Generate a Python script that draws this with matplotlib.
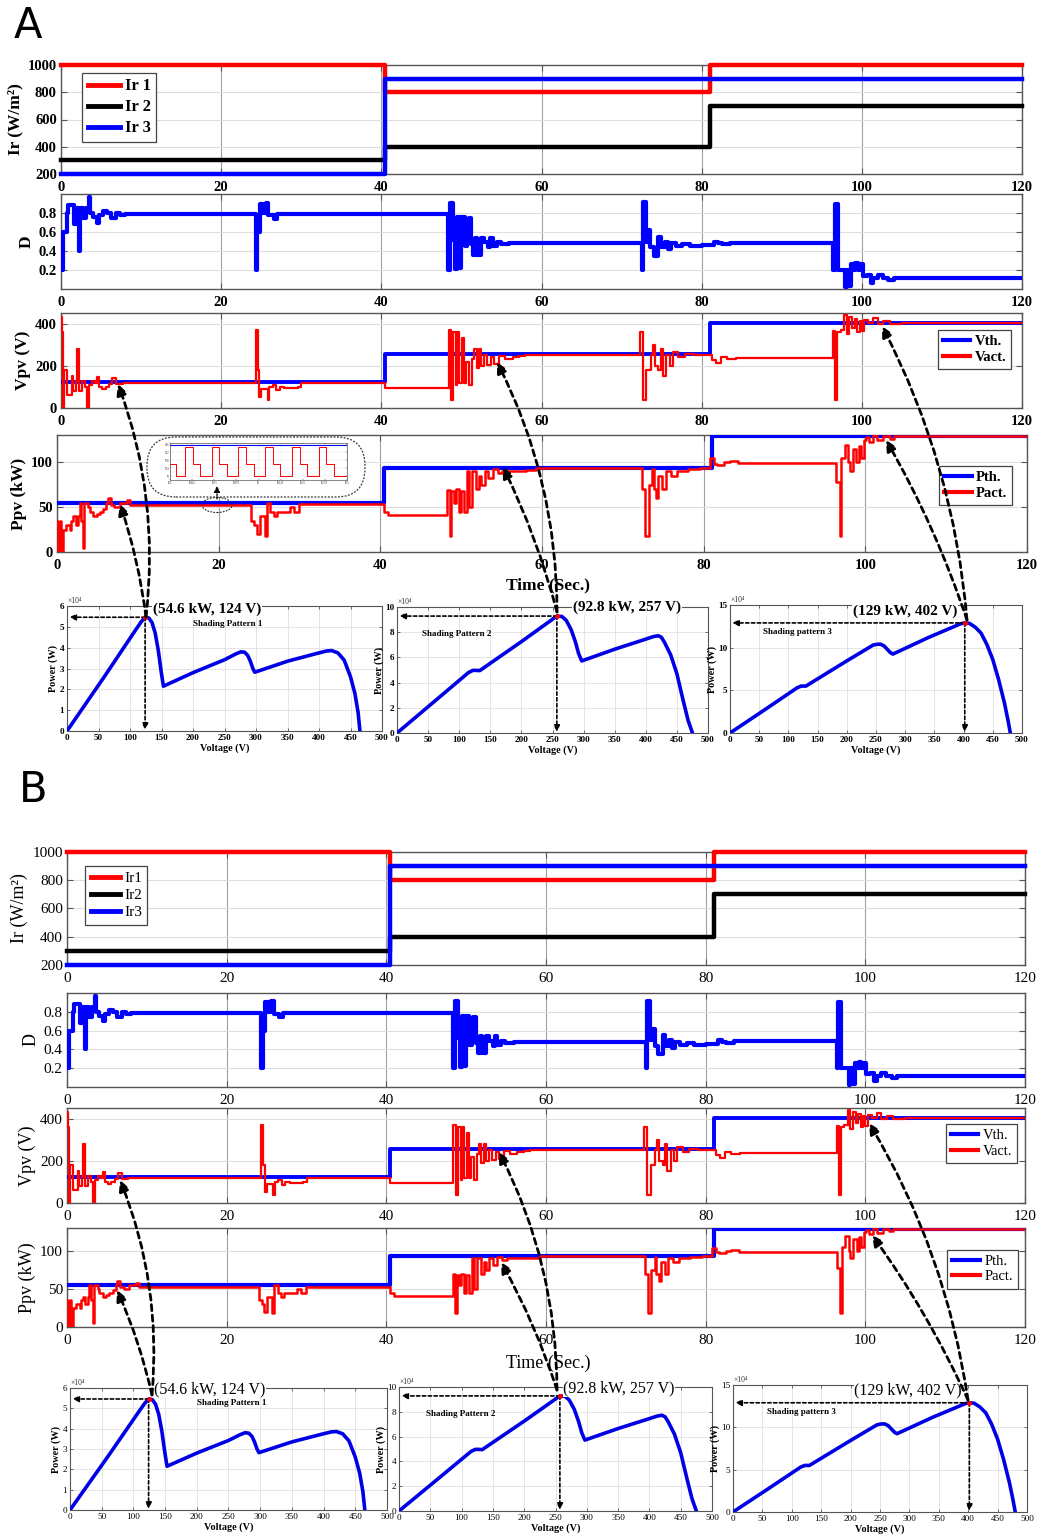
import matplotlib
matplotlib.use('Agg')
import matplotlib.pyplot as plt
from matplotlib.patches import FancyArrowPatch, FancyBboxPatch, Ellipse
from matplotlib.lines import Line2D

plt.rcParams['font.family'] = ['Liberation Serif', 'DejaVu Serif']

W, H = 1053, 1538

# ------------------------------------------------------------------ data
ir_t = [0, 40.5, 81, 120]
ir1 = [1000, 800, 1000, 1000]
ir2 = [300, 400, 700, 700]
ir3 = [200, 900, 900, 900]

th_t = [0, 40.5, 81, 120]
vth = [124, 257, 402, 402]
pth = [54.6, 92.8, 129, 129]

d_t = [0, 0.3, 0.7, 0.9, 1.6, 1.9, 2.2, 2.35, 2.8, 3.1, 3.5, 3.65, 4.0, 4.5, 4.8, 5.3, 5.8, 6.3, 6.9, 7.4, 8.0,
       24.3, 24.5, 24.8, 25.2, 25.6, 25.9, 26.6, 27.0,
       48.3, 48.6, 49.0, 49.2, 49.5, 49.8, 50.0, 50.4, 50.7, 50.9, 51.2, 51.5, 51.7, 52.0, 52.5, 52.8, 53.3, 53.6, 53.9, 54.4, 54.9, 56.0,
       72.5, 72.7, 73.0, 73.3, 73.6, 74.0, 74.6, 74.9, 75.4, 75.8, 76.2, 76.8, 77.6, 78.5, 80.0, 81.5, 82.0, 82.6, 83.5,
       96.4, 96.6, 97.0, 97.9, 98.1, 98.4, 98.7, 98.9, 99.2, 99.5, 99.8, 100.1, 100.6, 101.1, 101.4, 102.0, 102.6, 103.3, 104.0, 120]
d_v = [0.2, 0.6, 0.8, 0.88, 0.68, 0.85, 0.4, 0.85, 0.75, 0.85, 0.97, 0.8, 0.76, 0.7, 0.78, 0.82, 0.8, 0.75, 0.8, 0.78, 0.785,
       0.2, 0.6, 0.9, 0.8, 0.91, 0.78, 0.74, 0.79,
       0.2, 0.91, 0.52, 0.21, 0.76, 0.22, 0.76, 0.45, 0.52, 0.75, 0.47, 0.36, 0.54, 0.36, 0.54, 0.49, 0.44, 0.54, 0.45, 0.49, 0.47, 0.48,
       0.2, 0.92, 0.5, 0.62, 0.44, 0.35, 0.55, 0.44, 0.5, 0.42, 0.48, 0.45, 0.47, 0.45, 0.46, 0.5, 0.48, 0.47, 0.485,
       0.2, 0.9, 0.2, 0.02, 0.2, 0.03, 0.26, 0.2, 0.27, 0.2, 0.26, 0.14, 0.15, 0.06, 0.12, 0.15, 0.12, 0.1, 0.12, 0.12]

vact_t = [0, 0.17, 0.3, 0.42, 0.72, 1.14, 1.35, 1.56, 1.86, 2.03, 2.28, 2.6, 2.95, 3.25, 3.46, 3.88, 4.3, 4.5, 4.73, 5.15, 5.57, 6.0, 6.4, 6.84, 7.7,
          24.35, 24.55, 24.75, 25.0, 25.8, 26.0, 26.45, 26.9, 27.3, 27.9, 29.6, 30.0,
          40.5, 48.4, 48.7, 49.0, 49.3, 49.5, 49.7, 50.05, 50.35, 50.6, 51.0, 51.3, 51.6, 51.9, 52.2, 52.5, 52.8, 53.25, 53.7, 54.1, 54.7, 55.5, 56.4, 57.2, 58.0,
          72.3, 72.7, 73.1, 73.7, 73.95, 74.2, 74.6, 74.9, 75.2, 75.6, 76.0, 76.4, 77.1, 77.9, 79.1, 81.3, 81.8, 82.4, 83.2, 84.3,
          96.4, 96.7, 96.9, 97.35, 97.8, 98.1, 98.4, 98.8, 99.1, 99.4, 99.75, 100.0, 100.3, 100.8, 101.4, 102.0, 102.7, 103.5, 105.0, 107.0, 120]
vact_v = [430, 360, 0, 180, 60, 60, 150, 80, 130, 280, 80, 130, 100, 0, 110, 130, 120, 145, 100, 90, 100, 115, 140, 115, 120,
          370, 180, 50, 90, 40, 100, 110, 85, 100, 95, 100, 120,
          97, 370, 40, 360, 110, 360, 120, 330, 120, 220, 110, 230, 280, 190, 280, 200, 250, 205, 240, 210, 245, 230, 240, 245, 252,
          360, 40, 180, 250, 300, 200, 180, 280, 150, 250, 200, 265, 240, 255, 250, 228, 215, 240, 232, 236,
          363, 40, 360, 370, 440, 350, 430, 380, 420, 360, 410, 365, 415, 405, 428, 398, 410, 400, 405, 402, 402]

pact_t = [0, 0.12, 0.33, 0.54, 0.74, 1.16, 1.57, 1.78, 2.0, 2.3, 2.6, 2.8, 3.0, 3.2, 3.4, 3.85, 4.05, 4.46, 4.9, 5.3, 5.7, 6.1, 6.3, 6.7, 7.1, 7.8, 8.6, 9.0,
          24.0, 24.4, 24.7, 25.1, 25.7, 25.95, 26.4, 26.8, 27.2, 28.8, 29.3, 29.9,
          40.5, 41.0, 48.3, 48.6, 48.8, 49.1, 49.4, 49.75, 49.95, 50.4, 50.7, 51.0, 51.4, 51.8, 52.2, 52.45, 52.9, 53.3, 53.9, 54.5, 55.1, 58.0, 59.3,
          72.4, 72.8, 73.2, 73.6, 73.8, 74.15, 74.4, 74.85, 75.3, 75.9, 76.7, 78.0, 79.6, 80.8, 81.3, 81.7, 82.5, 83.2, 84.2,
          96.4, 96.85, 97.05, 97.5, 97.9, 98.1, 98.5, 98.9, 99.2, 99.5, 99.8, 100.1, 100.5, 100.9, 101.5, 102.2, 103.0, 103.5, 120]
pact_v = [35, 0, 35, 0, 25, 30, 25, 35, 40, 30, 40, 55, 35, 5, 55, 50, 45, 40, 42, 45, 48, 55, 60, 52, 50, 55, 58, 52,
          35, 30, 20, 40, 18, 55, 45, 40, 45, 50, 45, 53,
          45, 41, 69, 18, 68, 55, 70, 45, 68, 45, 90, 50, 90, 70, 85, 75, 90, 82, 92, 88, 90, 91, 93,
          70, 18, 75, 92, 70, 60, 85, 70, 90, 85, 90, 92, 93, 104, 98, 97, 100, 101, 99,
          78, 18, 105, 119, 100, 90, 115, 100, 118, 105, 125, 128, 122, 130, 124, 129, 126, 129, 129]

# zoomed inset (around t = 20 s)
inset_t = [19.5, 19.534, 19.585, 19.628, 19.670, 19.736, 19.779, 19.821, 19.887, 19.930, 19.972,
           20.038, 20.081, 20.123, 20.189, 20.232, 20.274, 20.340, 20.383, 20.425, 20.5]
inset_p = [53.6, 53.0, 54.5, 53.6, 53.0, 54.5, 53.6, 53.0, 54.5, 53.6, 53.0,
           54.5, 53.6, 53.0, 54.5, 53.6, 53.0, 54.5, 53.6, 53.0, 53.0]
inset_th = [54.6, 54.6]

# P-V curves (power in 1e4 W)
pv1_v = [0, 60, 110, 118, 124, 130, 135, 140, 145, 149, 153, 200, 250, 268, 276, 282, 287, 291, 295, 298,
         350, 400, 412, 420, 430, 440, 450, 457, 462, 465]
pv1_p = [0, 2.64, 4.9, 5.25, 5.46, 5.42, 5.2, 4.7, 3.85, 2.95, 2.15, 2.8, 3.42, 3.7, 3.8, 3.78, 3.62, 3.35, 3.0, 2.82,
         3.35, 3.75, 3.84, 3.86, 3.75, 3.4, 2.6, 1.8, 0.9, 0]
pv2_v = [0, 60, 115, 122, 127, 133, 200, 245, 257, 265, 272, 280, 287, 292, 297, 350, 400, 412, 420, 425,
         430, 440, 450, 460, 468, 475]
pv2_p = [0, 2.5, 4.8, 4.97, 4.97, 4.95, 7.25, 8.85, 9.28, 9.25, 8.95, 8.2, 7.2, 6.3, 5.72, 6.65, 7.45, 7.65, 7.72, 7.6,
         7.2, 6.2, 4.7, 2.6, 1.0, 0]
pv3_v = [0, 60, 115, 122, 130, 200, 245, 252, 258, 264, 270, 275, 279, 340, 395, 402, 410, 420, 430, 440,
         450, 460, 470, 476, 480]
pv3_p = [0, 2.75, 5.3, 5.5, 5.5, 8.45, 10.3, 10.4, 10.4, 10.2, 9.75, 9.4, 9.25, 11.2, 12.8, 12.9, 12.85, 12.4, 11.7, 10.35,
         8.6, 6.25, 3.5, 1.5, 0]
peak_v = [124, 257, 402]
peak_p = [5.46, 9.28, 12.9]
peak_labels = ['(54.6 kW, 124 V)', '(92.8 kW, 257 V)', '(129 kW, 402 V)']
shade_labels = ['Shading Pattern 1', 'Shading Pattern 2', 'Shading pattern 3']

# ------------------------------------------------------------------ helpers
RED = '#ff0000'
BLUE = '#0000ff'
BLACK = '#000000'

fig = plt.figure(figsize=(W / 100, H / 100), dpi=100)
fig.patch.set_facecolor('white')


def px_rect(x0, y0, x1, y1):
    return [x0 / W, 1 - y1 / H, (x1 - x0) / W, (y1 - y0) / H]


def P(x, y):
    return (x / 100.0, (H - y) / 100.0)


def base_style(ax):
    for s in ax.spines.values():
        s.set_color('#555555')
        s.set_linewidth(1.0)
    ax.tick_params(direction='in', top=True, right=True, length=4, width=0.8,
                   color='#555555', labelcolor='black', pad=3)
    ax.set_axisbelow(True)


def time_ax(rect, ylim, yticks, ylabels, ylabel, weight, fs_tick, fs_lab, xpad=5):
    ax = fig.add_axes(px_rect(*rect))
    ax.set_xlim(0, 120)
    ax.set_ylim(*ylim)
    xt = [0, 20, 40, 60, 80, 100, 120]
    ax.set_xticks(xt, [str(v) for v in xt], fontsize=fs_tick, fontweight=weight)
    ax.set_yticks(yticks, ylabels, fontsize=fs_tick, fontweight=weight)
    base_style(ax)
    ax.tick_params(axis='x', pad=xpad)
    ax.grid(True, axis='x', color='#a0a0a0', lw=0.8)
    ax.grid(True, axis='y', color='#dedede', lw=0.8)
    ax.set_ylabel(ylabel, fontsize=fs_lab, fontweight=weight, labelpad=3)
    return ax


def legend(ax, colors, labels, anchor, loc, weight, fs, lw, spacing):
    handles = [Line2D([0], [0], color=c, lw=lw) for c in colors]
    lg = ax.legend(handles, labels, loc=loc, bbox_to_anchor=anchor, borderaxespad=0,
                   prop={'weight': weight, 'size': fs, 'family': ['Liberation Serif']},
                   handlelength=1.9, handletextpad=0.3, labelspacing=spacing, borderpad=0.35,
                   fancybox=False, framealpha=1, edgecolor='#444444')
    lg.get_frame().set_linewidth(0.9)
    return lg


def pv_ax(rect, v, p, ytop, yticks, k, weight, fs_tick, fs_lab, mk_lw):
    ax = fig.add_axes(px_rect(*rect))
    ax.plot(v, p, color='#0000e6', lw=2.6, solid_capstyle='round', zorder=3)
    ax.set_xlim(0, 500)
    ax.set_ylim(0, ytop)
    xt = list(range(0, 501, 50))
    ax.set_xticks(xt, [str(x) for x in xt], fontsize=fs_tick, fontweight=weight)
    ax.set_yticks(yticks, [str(y) for y in yticks], fontsize=fs_tick, fontweight=weight)
    for s in ax.spines.values():
        s.set_color('#555555')
        s.set_linewidth(0.8)
    ax.tick_params(direction='in', top=True, right=True, length=2.5, width=0.6,
                   color='#555555', pad=2)
    ax.grid(True, color='#e0e0e0', lw=0.6)
    ax.set_axisbelow(True)
    ax.set_xlabel('Voltage (V)', fontsize=fs_lab, fontweight='bold', labelpad=1)
    ax.set_ylabel('Power (W)', fontsize=fs_lab, fontweight='bold', labelpad=1)
    ax.text(0.0, 1.005, '×10⁴', transform=ax.transAxes, fontsize=5.5, va='bottom', ha='left',
            color='#333333')
    pv, pp = peak_v[k], peak_p[k]
    ax.annotate('', xy=(4, pp), xytext=(pv, pp),
                arrowprops=dict(arrowstyle='-|>', color='black', lw=mk_lw, linestyle=(0, (2, 1.5)),
                                mutation_scale=9, shrinkA=0, shrinkB=0), zorder=4)
    ax.annotate('', xy=(pv, ytop * 0.01), xytext=(pv, pp),
                arrowprops=dict(arrowstyle='-|>', color='black', lw=mk_lw, linestyle=(0, (2, 1.5)),
                                mutation_scale=9, shrinkA=0, shrinkB=0), zorder=4)
    ax.plot([pv], [pp], 'o', color='red', ms=2.5, zorder=5)
    return ax


def curved_arrow(a, b, rad):
    arr = FancyArrowPatch(P(*a), P(*b), transform=fig.dpi_scale_trans,
                          connectionstyle='arc3,rad=%f' % rad, arrowstyle='-|>',
                          mutation_scale=16, color='black', lw=2.0, linestyle=(0, (2.2, 1.6)),
                          shrinkA=0, shrinkB=0, zorder=20)
    fig.add_artist(arr)


def draw_panel(rects, weight, fs_tick, fs_lab, ir_labels, leg_specs, texts, arrows, time_y, fs_txt,
               leg_fs, leg_sp):
    (r_ir, r_d, r_v, r_p, r_pv1, r_pv2, r_pv3) = rects
    # irradiance
    ax = time_ax(r_ir, (200, 1000), [200, 400, 600, 800, 1000],
                 ['200', '400', '600', '800', '1000'], 'Ir (W/m²)', weight, fs_tick, fs_lab)
    ax.plot(ir_t, ir1, drawstyle='steps-post', color=RED, lw=3.2, clip_on=False, zorder=3)
    ax.plot(ir_t, ir2, drawstyle='steps-post', color=BLACK, lw=3.2, clip_on=False, zorder=3)
    ax.plot(ir_t, ir3, drawstyle='steps-post', color=BLUE, lw=3.2, clip_on=False, zorder=3)
    legend(ax, [RED, BLACK, BLUE], ir_labels, leg_specs[0], 'upper left', weight, leg_fs[0], 3.5, leg_sp[0])
    # duty
    ax = time_ax(r_d, (0, 1), [0.2, 0.4, 0.6, 0.8], ['0.2', '0.4', '0.6', '0.8'], 'D',
                 weight, fs_tick, fs_lab)
    ax.plot(d_t, d_v, drawstyle='steps-post', color=BLUE, lw=3.0, zorder=3)
    # voltage
    ax = time_ax(r_v, (0, 450), [0, 200, 400], ['0', '200', '400'], 'Vpv (V)',
                 weight, fs_tick, fs_lab)
    ax.plot(th_t, vth, drawstyle='steps-post', color=BLUE, lw=2.8, zorder=3)
    ax.plot(vact_t, vact_v, drawstyle='steps-post', color=RED, lw=1.6, zorder=4)
    legend(ax, [BLUE, RED], ['Vth.', 'Vact.'], leg_specs[1], 'upper right', weight, leg_fs[1], 3, leg_sp[1])
    # power
    ax = time_ax(r_p, (0, 130), [0, 50, 100], ['0', '50', '100'], 'Ppv (kW)',
                 weight, fs_tick, fs_lab)
    ax.plot(th_t, pth, drawstyle='steps-post', color=BLUE, lw=3.0, zorder=3)
    ax.plot(pact_t, pact_v, drawstyle='steps-post', color=RED, lw=1.8, zorder=4)
    legend(ax, [BLUE, RED], ['Pth.', 'Pact.'], leg_specs[2], 'upper right', weight, leg_fs[1], 3, leg_sp[1])
    fig.text(548 / W, 1 - time_y / H, 'Time (Sec.)', ha='center', va='center',
             fontsize=fs_lab, fontweight=weight)
    # P-V curves
    pv_ax(r_pv1, pv1_v, pv1_p, 6, [0, 1, 2, 3, 4, 5, 6], 0, weight, 6.6, 7.3, 1.2)
    pv_ax(r_pv2, pv2_v, pv2_p, 10, [0, 2, 4, 6, 8, 10], 1, weight, 6.6, 7.3, 1.2)
    pv_ax(r_pv3, pv3_v, pv3_p, 15, [0, 5, 10, 15], 2, weight, 6.6, 7.3, 1.2)
    for (x, y), s in zip(texts[0], peak_labels):
        fig.text(x / W, 1 - y / H, s, ha='center', va='center', fontsize=fs_txt,
                 fontweight='bold' if weight == 'bold' else 'normal', zorder=15,
                 bbox=dict(facecolor='white', edgecolor='none', pad=0.5))
    for (x, y), s in zip(texts[1], shade_labels):
        fig.text(x / W, 1 - y / H, s, ha='center', va='center', fontsize=6.5,
                 fontweight='bold', zorder=15)
    for a, b, r in arrows:
        curved_arrow(a, b, r)


# ------------------------------------------------------------------ panel A
rects_a = [(61, 65, 1022, 174), (61, 194, 1022, 289), (61, 313, 1022, 408), (57, 435, 1027, 552),
           (67, 606, 382, 731), (397, 607, 708, 733), (730, 605, 1022, 733)]
legs_a = [(0.022, 0.93), (0.989, 0.82), (0.985, 0.735)]
texts_a = [[(207, 609), (627, 607), (905, 611)], [(228, 624), (457, 634), (797, 632)]]
arrows_a = [((146, 617), (118, 384), 0.12), ((146, 617), (120, 504), 0.05),
            ((557, 612), (497, 362), 0.12), ((557, 612), (503, 467), 0.05),
            ((967, 620), (882, 326), 0.10), ((967, 620), (886, 440), 0.05)]
draw_panel(rects_a, 'bold', 10.5, 12.5, ['Ir 1', 'Ir 2', 'Ir 3'], legs_a, texts_a, arrows_a, 585, 11,
           (12, 10.5), (0.3, 0.15))

# inset in panel A power plot
box = FancyBboxPatch(P(147, 497), 2.18, 0.60, boxstyle='round,pad=0,rounding_size=0.29',
                     transform=fig.dpi_scale_trans, facecolor='white', edgecolor='#333333',
                     lw=0.9, linestyle=(0, (1.5, 1.2)), zorder=8)
fig.add_artist(box)
axi = fig.add_axes(px_rect(170, 443, 347, 480), zorder=9)
axi.plot(inset_t, inset_p, drawstyle='steps-post', color=RED, lw=0.7)
axi.plot([19.5, 20.5], inset_th, color=BLUE, lw=0.8)
axi.set_xlim(19.5, 20.5)
axi.set_ylim(52.8, 54.68)
axi.set_xticks([19.5, 19.625, 19.75, 19.875, 20.0, 20.125, 20.25, 20.375, 20.5],
               ['19.5', '19.625', '19.75', '19.875', '20', '20.125', '20.25', '20.375', '20.5'], fontsize=1.8)
axi.set_yticks([53.0, 53.4, 53.8, 54.2, 54.6], ['53', '53.4', '53.8', '54.2', '54.6'], fontsize=1.8)
axi.tick_params(direction='in', length=1, width=0.3, pad=0.5, top=True, right=True)
axi.grid(True, color='#e6e6e6', lw=0.3)
for s in axi.spines.values():
    s.set_linewidth(0.5)
    s.set_color('#555555')
ell = Ellipse(P(217, 505), 0.30, 0.15, transform=fig.dpi_scale_trans, fill=False,
              edgecolor='#222222', lw=0.8, linestyle=(0, (1.5, 1.2)), zorder=12)
fig.add_artist(ell)
fig.add_artist(FancyArrowPatch(P(217, 499), P(217, 486), transform=fig.dpi_scale_trans,
                               arrowstyle='-|>', mutation_scale=9, color='black', lw=0.9,
                               linestyle=(0, (1.5, 1.2)), shrinkA=0, shrinkB=0, zorder=12))

# ------------------------------------------------------------------ panel B
rects_b = [(67, 852, 1025, 965), (67, 993, 1025, 1087), (67, 1108, 1025, 1203), (67, 1228, 1025, 1327),
           (70, 1388, 387, 1510), (399, 1387, 712, 1511), (733, 1385, 1027, 1512)]
legs_b = [(0.019, 0.876), (0.992, 0.83), (0.993, 0.78)]
texts_b = [[(210, 1389), (619, 1388), (908, 1390)], [(232, 1403), (461, 1414), (801, 1412)]]
arrows_b = [((152, 1395), (120, 1180), 0.12), ((152, 1395), (117, 1290), 0.05),
            ((557, 1390), (499, 1152), 0.12), ((557, 1390), (501, 1262), 0.05),
            ((968, 1400), (869, 1123), 0.10), ((968, 1400), (872, 1235), 0.05)]
draw_panel(rects_b, 'normal', 11, 13, ['Ir1', 'Ir2', 'Ir3'], legs_b, texts_b, arrows_b, 1363, 11.5,
           (11, 10.5), (0.22, 0.15))

# panel letters
fig.text(28 / W, 1 - 26 / H, 'A', fontsize=30, ha='center', va='center', family='DejaVu Sans')
fig.text(33 / W, 1 - 790 / H, 'B', fontsize=30, ha='center', va='center', family='DejaVu Sans')

fig.savefig('out.png', dpi=100, facecolor='white')
